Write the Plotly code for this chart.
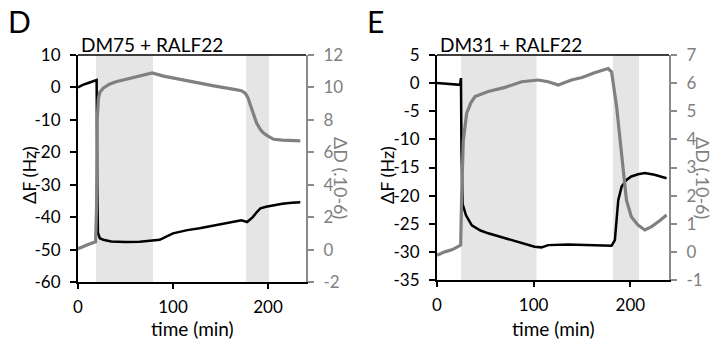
import plotly.graph_objects as go

W, H = 714, 342
FONT = "Lato"
GRAY = "#808080"
AXGRAY = "#8a8a8a"
SHADE = "#e5e5e5"

# ---------------- Panel D: DM75 + RALF22 ----------------
d_t_F = [0, 5, 10, 15, 19.6, 20.3, 21, 23, 26.6, 35, 50, 65, 80, 86, 100, 115, 128, 145, 163, 172, 178, 184, 188, 192, 198, 206, 215, 225, 234]
d_F = [0, 0.8, 1.3, 1.8, 2.3, -30, -44.9, -46.5, -47, -47.5, -47.7, -47.6, -47.3, -47, -45, -44, -43.4, -42.5, -41.5, -41, -41.5, -40, -38.5, -37.3, -36.8, -36.3, -35.9, -35.6, -35.4]
d_t_D = [0, 5, 10, 15, 18.5, 19.5, 20.2, 21.5, 23, 26.5, 33, 40, 57, 70, 78, 90, 111, 125, 143, 163, 172, 176, 179, 181, 184, 188, 192, 195, 200, 206, 215, 225, 234]
d_D = [0.05, 0.2, 0.3, 0.4, 0.47, 2.5, 8.0, 9.3, 9.7, 9.95, 10.2, 10.35, 10.6, 10.75, 10.9, 10.7, 10.45, 10.3, 10.1, 9.9, 9.8, 9.65, 9.35, 9.0, 8.5, 7.8, 7.4, 7.2, 7.0, 6.8, 6.75, 6.7, 6.7]
d_shade = [(19, 79), (177, 201)]

# ---------------- Panel E: DM31 + RALF22 ----------------
e_t_F = [0, 8, 16, 23.8, 24.8, 25.3, 26.5, 28, 30, 36, 45, 53, 70, 87.6, 101, 108, 115, 135.6, 156, 170, 180.6, 184, 187.5, 191, 196, 201, 208, 215, 225, 237.5]
e_F = [0, -0.1, -0.2, -0.3, 0.9, -12, -21.5, -22.5, -23.5, -25.3, -26.2, -26.7, -27.6, -28.5, -29.1, -29.2, -28.8, -28.7, -28.8, -28.9, -28.9, -27.9, -20.8, -18.4, -17.2, -16.6, -16.2, -16.0, -16.3, -16.9]
e_t_D = [0, 8, 16, 22, 24.5, 25.5, 27.2, 30.7, 35, 39.3, 53, 70.3, 87.6, 104.8, 115, 125.5, 139, 150, 163, 177, 180.6, 185.8, 191, 196, 201, 208, 215, 222, 230, 237.5]
e_D = [-0.12, 0.0, 0.08, 0.18, 0.24, 2.0, 3.97, 4.93, 5.3, 5.52, 5.7, 5.85, 6.05, 6.11, 6.05, 5.93, 6.11, 6.2, 6.37, 6.52, 6.4, 5.16, 3.38, 1.84, 1.25, 0.95, 0.78, 0.9, 1.1, 1.31]
e_shade = [(25, 103), (182, 209)]

x_ticks = [0, 100, 200]
d_F_ticks = [-60, -50, -40, -30, -20, -10, 0, 10]
d_D_ticks = [-2, 0, 2, 4, 6, 8, 10, 12]
e_F_ticks = [-35, -30, -25, -20, -15, -10, -5, 0, 5]
e_D_ticks = [-1, 0, 1, 2, 3, 4, 5, 6, 7]


def px(x):
    return x / W


def py(y):
    return 1 - y / H


fig = go.Figure()

fig.add_trace(go.Scatter(x=d_t_F, y=d_F, mode="lines", line=dict(color="black", width=2.5), xaxis="x", yaxis="y", showlegend=False))
fig.add_trace(go.Scatter(x=d_t_D, y=d_D, mode="lines", line=dict(color=GRAY, width=3.2), xaxis="x", yaxis="y2", showlegend=False))
fig.add_trace(go.Scatter(x=e_t_F, y=e_F, mode="lines", line=dict(color="black", width=2.5), xaxis="x2", yaxis="y3", showlegend=False))
fig.add_trace(go.Scatter(x=e_t_D, y=e_D, mode="lines", line=dict(color=GRAY, width=3.2), xaxis="x2", yaxis="y4", showlegend=False))

tickfont = dict(family=FONT, size=17, color="black")
grayfont = dict(family=FONT, size=17, color=GRAY)


def xax(domain, anchor):
    return dict(domain=domain, anchor=anchor, range=[0, 240], tickvals=x_ticks,
                ticktext=[str(v) for v in x_ticks], ticks="outside",
                ticklen=5, tickwidth=1.5, tickcolor="black", showline=True, linecolor="black",
                linewidth=2, showgrid=False, zeroline=False, tickfont=tickfont, ticklabelstandoff=4,
                automargin=False)


def yax_left(domain, anchor, rng, ticks):
    return dict(domain=domain, anchor=anchor, range=rng, tickvals=ticks,
                ticktext=[str(v) for v in ticks], ticks="outside",
                ticklen=6, tickwidth=1.5, tickcolor="black", showline=True, linecolor="black",
                linewidth=2, showgrid=False, zeroline=False, tickfont=tickfont, ticklabelstandoff=6,
                automargin=False)


def yax_right(overlay, anchor, rng, ticks):
    return dict(overlaying=overlay, anchor=anchor, side="right", range=rng, tickvals=ticks,
                ticktext=[str(v) for v in ticks],
                ticks="outside", ticklen=6, tickwidth=1.5, tickcolor=AXGRAY, showline=True,
                linecolor=AXGRAY, linewidth=2, showgrid=False, zeroline=False, tickfont=grayfont,
                ticklabelstandoff=6, automargin=False)


d_xdom = [px(78), px(306)]
d_ydom = [py(282), py(55)]
e_xdom = [px(437), px(669)]
e_ydom = [py(280), py(55)]

shapes = []
for (a, b) in d_shade:
    shapes.append(dict(type="rect", xref="x", yref="y domain", x0=a, x1=b, y0=0, y1=1,
                       fillcolor=SHADE, line=dict(width=0), layer="below"))
for (a, b) in e_shade:
    shapes.append(dict(type="rect", xref="x2", yref="y3 domain", x0=a, x1=b, y0=0, y1=1,
                       fillcolor=SHADE, line=dict(width=0), layer="below"))
shapes.append(dict(type="line", xref="x domain", yref="y domain", x0=0, x1=1, y0=1, y1=1,
                   line=dict(color="black", width=1.5)))
shapes.append(dict(type="line", xref="x2 domain", yref="y3 domain", x0=0, x1=1, y0=1, y1=1,
                   line=dict(color="black", width=1.5)))

annotations = [
    dict(text="D", x=px(6), y=py(21), xanchor="left", yanchor="middle", font=dict(family=FONT, size=30, color="black")),
    dict(text="E", x=px(365), y=py(21), xanchor="left", yanchor="middle", font=dict(family=FONT, size=30, color="black")),
    dict(text="DM75 + RALF22", x=px(79), y=py(44), xanchor="left", yanchor="middle", font=dict(family=FONT, size=19, color="black")),
    dict(text="DM31 + RALF22", x=px(438), y=py(44), xanchor="left", yanchor="middle", font=dict(family=FONT, size=19, color="black")),
    dict(text="time (min)", x=px(192), y=py(328), xanchor="center", yanchor="middle", font=dict(family=FONT, size=19, color="black")),
    dict(text="time (min)", x=px(553), y=py(328), xanchor="center", yanchor="middle", font=dict(family=FONT, size=19, color="black")),
    dict(text="ΔF (Hz)", x=px(29), y=py(175), textangle=-90, xanchor="center", yanchor="middle", font=dict(family=FONT, size=18, color="black")),
    dict(text="ΔF (Hz)", x=px(387), y=py(175), textangle=-90, xanchor="center", yanchor="middle", font=dict(family=FONT, size=18, color="black")),
    dict(text="ΔD (.10-6)", x=px(341), y=py(178), textangle=90, xanchor="center", yanchor="middle", font=dict(family=FONT, size=18, color=GRAY)),
    dict(text="ΔD (.10-6)", x=px(703), y=py(178), textangle=90, xanchor="center", yanchor="middle", font=dict(family=FONT, size=18, color=GRAY)),
]
for a in annotations:
    a.update(xref="paper", yref="paper", showarrow=False)

fig.update_layout(
    width=W, height=H, margin=dict(l=0, r=0, t=0, b=0, autoexpand=False),
    paper_bgcolor="white", plot_bgcolor="white",
    xaxis=xax(d_xdom, "y"),
    yaxis=yax_left(d_ydom, "x", [-60, 10], d_F_ticks),
    yaxis2=yax_right("y", "x", [-2, 12], d_D_ticks),
    xaxis2=xax(e_xdom, "y3"),
    yaxis3=yax_left(e_ydom, "x2", [-35, 5], e_F_ticks),
    yaxis4=yax_right("y3", "x2", [-1, 7], e_D_ticks),
    shapes=shapes, annotations=annotations, showlegend=False,
    font=dict(family=FONT),
)

fig.write_html("out.html", config={"displayModeBar": False},
               post_script="document.body.style.margin='0';document.body.style.overflow='hidden';")
